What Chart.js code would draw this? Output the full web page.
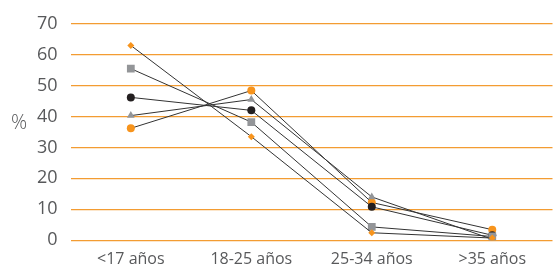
<!DOCTYPE html>
<html lang="es">
<head>
  <meta charset="UTF-8" />
  <title>Edad</title>
  <script src="https://cdn.jsdelivr.net/npm/chart.js"></script>
  <style>
    html, body { margin: 0; padding: 0; background: #fff; }
    #wrap { position: relative; width: 553px; height: 264px; overflow: hidden; }
    #pct { position: absolute; left: 11px; top: 108px; font: 300 20px "Open Sans", sans-serif; color: #58595b; }
  </style>
</head>
<body>
  <div id="wrap">
    <canvas id="chart" width="558" height="264"></canvas>
    <span id="pct">%</span>
  </div>

  <script>
    const categories = ['<17 años', '18-25 años', '25-34 años', '>35 años'];
    const yTicks = [0, 10, 20, 30, 40, 50, 60, 70];

    // una serie por grupo
    const serieDiamante = [63, 33.5, 2.4, 0.7];
    const serieCuadrado = [55.5, 38.2, 4.3, 1.2];
    const serieCirculoNegro = [46.2, 42, 10.8, 1.6];
    const serieTriangulo = [40.3, 45.5, 14, 0.3];
    const serieCirculoNaranja = [36.2, 48.4, 12.2, 3.4];

    const orange = '#f7941d';
    const gray = '#939598';
    const black = '#231f20';

    function serie(data, style, color, radius) {
      return {
        data: data,
        borderColor: '#333333',
        borderWidth: 1,
        pointStyle: style,
        pointRadius: radius,
        pointHoverRadius: radius,
        pointBackgroundColor: color,
        pointBorderColor: color,
        pointBorderWidth: 0,
        tension: 0,
        fill: false
      };
    }

    new Chart(document.getElementById('chart'), {
      type: 'line',
      data: {
        labels: categories,
        datasets: [
          serie(serieDiamante, 'rectRot', orange, 3.5),
          serie(serieCuadrado, 'rect', gray, 5.5),
          serie(serieCirculoNegro, 'circle', black, 4),
          serie(serieTriangulo, 'triangle', gray, 4.5),
          serie(serieCirculoNaranja, 'circle', orange, 4)
        ]
      },
      options: {
        responsive: false,
        animation: false,
        layout: { padding: { left: 24, top: 16, right: 0, bottom: -8 } },
        plugins: { legend: { display: false }, tooltip: { enabled: false } },
        scales: {
          x: {
            offset: true,
            grid: { display: false },
            border: { display: false },
            ticks: { color: '#58595b', font: { family: 'Open Sans', size: 16 }, padding: 2 }
          },
          y: {
            min: 0,
            max: 70,
            afterBuildTicks: axis => { axis.ticks = yTicks.map(v => ({ value: v })); },
            grid: { color: '#f39c32', lineWidth: 1.3, drawTicks: false },
            border: { display: false },
            ticks: { color: '#58595b', font: { family: 'Open Sans', size: 18 }, padding: 13 }
          }
        }
      }
    });
  </script>
</body>
</html>
